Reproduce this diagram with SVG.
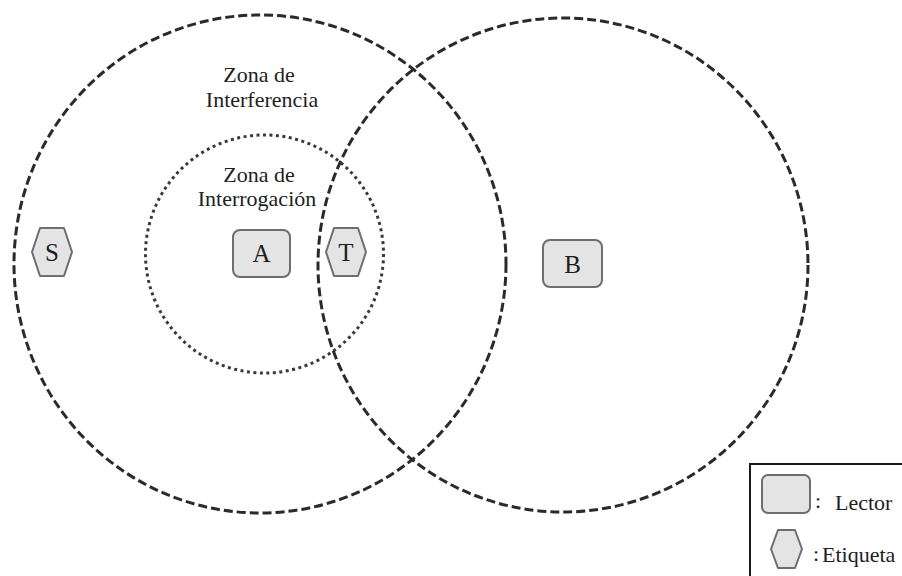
<svg xmlns="http://www.w3.org/2000/svg" width="902" height="576" viewBox="0 0 902 576">
  <style>
    .zone { fill: none; stroke: #2a2a2a; stroke-width: 3; stroke-dasharray: 9 4; }
    .inner { fill: none; stroke: #3a3a3a; stroke-width: 3; stroke-dasharray: 3 3.5; }
    .reader { fill: #e4e4e4; stroke: #6e6e6e; stroke-width: 2; }
    .tag { fill: #e4e4e4; stroke: #6e6e6e; stroke-width: 2; stroke-linejoin: round; }
    text { fill: #1e1e1e; }
    .zt { font-size: 22px; text-anchor: middle; }
    .nt { font-size: 25px; text-anchor: middle; }
    .lt { font-size: 22px; }
  </style>

  <rect width="902" height="576" fill="#ffffff"/>

  <!-- coverage zones -->
  <g id="zones">
    <ellipse id="zone-a" class="zone" cx="260" cy="264" rx="246" ry="249"/>
    <ellipse id="zone-b" class="zone" cx="563" cy="265" rx="245" ry="247"/>
    <circle id="zone-interrogation" class="inner" cx="264.5" cy="254" r="119"/>
  </g>

  <g font-family="'Liberation Serif', 'DejaVu Serif', 'Times New Roman', serif">
    <!-- zone captions -->
    <g id="captions">
      <text class="zt" x="259" y="82">Zona de</text>
      <text class="zt" x="262" y="107">Interferencia</text>
      <text class="zt" x="259" y="182">Zona de</text>
      <text class="zt" x="257" y="206">Interrogación</text>
    </g>

    <!-- readers -->
    <g id="reader-a">
      <rect class="reader" x="233" y="230" width="57" height="47" rx="7"/>
      <text class="nt" x="261.5" y="262">A</text>
    </g>
    <g id="reader-b">
      <rect class="reader" x="543" y="240" width="59" height="47" rx="7"/>
      <text class="nt" x="572.5" y="273">B</text>
    </g>

    <!-- tags -->
    <g id="tag-s">
      <polygon class="tag" points="32,252 40,228 64,228 72,252 64,276 40,276"/>
      <text class="nt" x="52" y="261">S</text>
    </g>
    <g id="tag-t">
      <polygon class="tag" points="326,252 334,228 358,228 366,252 358,276 334,276"/>
      <text class="nt" x="346" y="261">T</text>
    </g>

    <!-- legend -->
    <g id="legend">
      <rect x="750" y="464" width="170" height="130" fill="#ffffff" stroke="#1a1a1a" stroke-width="2"/>
      <rect class="reader" x="762" y="475" width="48" height="38" rx="6"/>
      <text class="lt" x="815" y="508">:</text>
      <text class="lt" x="835" y="510">Lector</text>
      <polygon class="tag" points="771,549 778,530 795,530 802,549 795,568 778,568"/>
      <text class="lt" x="813" y="561">:</text>
      <text class="lt" x="822" y="562">Etiqueta</text>
    </g>
  </g>
</svg>
